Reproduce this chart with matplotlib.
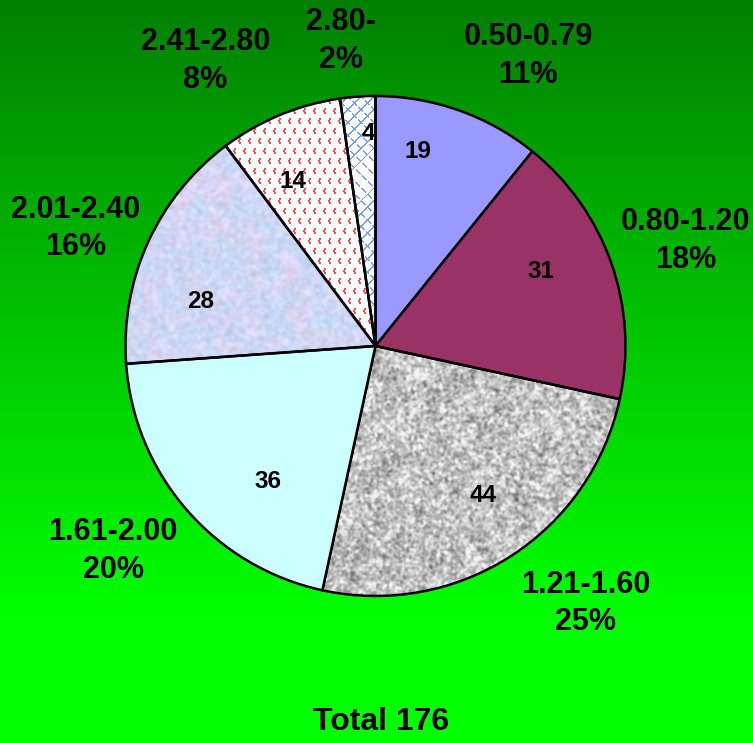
import numpy as np
import matplotlib
matplotlib.use('Agg')
import matplotlib.pyplot as plt

plt.rcParams['font.family'] = ['Liberation Sans', 'DejaVu Sans']

# 区间分布
ranges = ['0.50-0.79', '0.80-1.20', '1.21-1.60', '1.61-2.00', '2.01-2.40', '2.41-2.80', '2.80-']
counts = [19, 31, 44, 36, 28, 14, 4]

# label layout (pie units, radius = 1)
outer_pos = [(0.61, 1.16), (1.24, 0.42), (0.84, -1.03), (-1.05, -0.82),
             (-1.20, 0.47), (-0.68, 1.14), (-0.14, 1.22)]
inner_pos = [(0.17, 0.78), (0.66, 0.30), (0.43, -0.60), (-0.43, -0.54),
             (-0.70, 0.18), (-0.33, 0.66), (-0.03, 0.85)]

W, H, DPI = 753, 743, 100
N = 500  # texture resolution over the pie box


def blur(z, sigma):
    n = z.shape[0]
    f = np.fft.fftfreq(n)
    g = np.exp(-2 * (np.pi * sigma) ** 2 * (f[:, None] ** 2 + f[None, :] ** 2))
    out = np.real(np.fft.ifft2(np.fft.fft2(z) * g))
    return (out - out.mean()) / out.std()


rng = np.random.default_rng(7)

# 灰色花岗岩纹理
n1 = blur(rng.standard_normal((N, N)), 1.2)
n2 = blur(rng.standard_normal((N, N)), 5.0)
gray = np.clip(0.76 + 0.09 * n1 + 0.03 * n2, 0.3, 0.95)
granite = np.dstack([gray, gray, gray])

# 浅蓝/粉色纹理
m1 = blur(rng.standard_normal((N, N)), 4.0)
m2 = blur(rng.standard_normal((N, N)), 1.5)
t = np.clip(0.3 + 0.2 * m1, 0, 1)[..., None]
blue = np.array([0.78, 0.85, 0.97])
pink = np.array([0.90, 0.83, 0.93])
pastel = (1 - t) * blue + t * pink + 0.02 * m2[..., None]
pastel = np.clip(pastel, 0, 1)

yy, xx = np.mgrid[0:N, 0:N]

# 红色点阵（小折角）
dots = np.ones((N, N, 3))
row = yy // 10
cx = (xx + 5 * (row % 2)) % 10
cy = yy % 10
mark = (((cx == 3) | (cx == 4)) & ((cy == 2) | (cy == 3))) | \
       (((cx == 2) | (cx == 3)) & ((cy == 4) | (cy == 5))) | \
       (((cx == 3) | (cx == 4)) & ((cy == 6) | (cy == 7)))
dots[mark] = [1.0, 0.3, 0.3]

# 蓝色斜网格
cross = np.ones((N, N, 3))
d1 = (xx + yy) % 13
d2 = (xx - yy) % 13
line = ((d1 < 2) | (d2 < 2)) & (((xx + yy) // 3) % 4 != 0)
cross[line] = [0.45, 0.62, 1.0]

textures = {2: granite, 4: pastel, 5: dots, 6: cross}
solid = ['#9999ff', '#993366', 'none', '#ccffff', 'none', 'none', 'none']

fig = plt.figure(figsize=(W / DPI, H / DPI), dpi=DPI)

# 背景渐变：深绿 -> 亮绿
bg = fig.add_axes([0, 0, 1, 1])
yrows = np.arange(H)
gch = np.clip(128 + 127 * yrows / 610, 0, 255) / 255
grad = np.zeros((H, 1, 3))
grad[:, 0, 1] = gch
bg.imshow(grad, aspect='auto', extent=[0, 1, 0, 1])
bg.set_axis_off()

R = 250
cx0, cy0 = 375.5, H - 346
ax = fig.add_axes([(cx0 - R) / W, (cy0 - R) / H, 2 * R / W, 2 * R / H])
ax.set_axis_off()

wedges, _ = ax.pie(counts, startangle=90, counterclock=False, colors=solid,
                   radius=1, center=(0, 0), frame=False,
                   wedgeprops=dict(edgecolor='black', linewidth=1.8, zorder=2))
ax.set_xlim(-1, 1)
ax.set_ylim(-1, 1)
ax.set_aspect('auto')

for i, tex in textures.items():
    im = ax.imshow(tex, extent=[-1, 1, -1, 1], zorder=1, interpolation='nearest')
    im.set_clip_path(wedges[i])

total = sum(counts)
for i, (name, c) in enumerate(zip(ranges, counts)):
    pct = round(100 * c / total)
    ox, oy = outer_pos[i]
    ax.text(ox, oy, f'{name}\n{pct}%', ha='center', va='center', fontsize=22,
            fontweight='bold', linespacing=1.32, clip_on=False, zorder=5)
    ix, iy = inner_pos[i]
    ax.text(ix, iy, str(c), ha='center', va='center', fontsize=17.5,
            fontweight='bold', zorder=5)

fig.text(0.506, 0.028, f'Total {total}', ha='center', va='center',
         fontsize=23, fontweight='bold')

fig.savefig('out.png', dpi=DPI)
